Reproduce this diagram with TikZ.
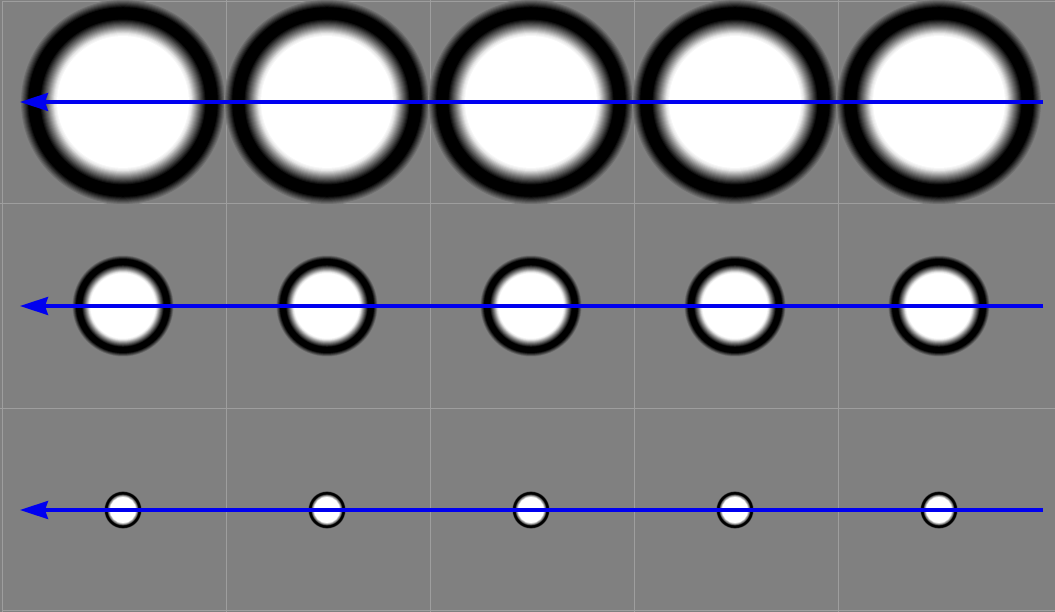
\documentclass[tikz,border=0pt]{standalone}
\usetikzlibrary{arrows.meta}
\definecolor{bggray}{RGB}{128,128,128}
\definecolor{gridgray}{RGB}{158,158,158}
\definecolor{arrowblue}{RGB}{0,0,240}
% concentric disks approximating a soft black ring
\newcommand{\softring}[3]{% center x, center y, outer radius
  \foreach \f in {1.00,0.99,...,0.61}{%
    \pgfmathsetmacro{\g}{(\f>0.96) ? (0.25+(\f-0.96)/0.04*0.25) : ((\f>0.92) ? ((\f-0.92)/0.04*0.25) : ((\f>0.81) ? 0 : ((\f>0.73) ? ((0.81-\f)/0.08*0.5) : ((\f>0.67) ? (0.5+(0.73-\f)/0.06*0.4) : min(1,0.9+(0.67-\f)/0.03*0.1)))))}%
    \pgfmathsetmacro{\p}{100*\g}%
    \fill[white!\p!black] (#1,#2) circle[radius=\f*#3];
  }%
  \fill[white] (#1,#2) circle[radius=0.61*#3];
}
\newcommand{\thinring}[3]{%
  \foreach \f in {1.00,0.98,...,0.66}{%
    \pgfmathsetmacro{\g}{(\f>0.94) ? ((\f-0.94)/0.06*0.5) : ((\f>0.84) ? 0 : ((\f>0.78) ? ((0.84-\f)/0.06*0.45) : min(1,0.45+(0.78-\f)/0.10*0.55)))}%
    \pgfmathsetmacro{\p}{100*\g}%
    \fill[white!\p!black] (#1,#2) circle[radius=\f*#3];
  }%
  \fill[white] (#1,#2) circle[radius=0.66*#3];
}
\begin{document}
\begin{tikzpicture}[x=1pt,y=-1pt,
  gridline/.style={draw=gridgray,line width=1pt},
  ringnode/.style={circle,inner sep=0pt,outer sep=0pt},
  bluearrow/.style={draw=arrowblue,line width=3.5pt,-{Stealth[length=28pt,width=18pt,inset=3pt]}}]
\useasboundingbox (0,0) rectangle (1055,612);
\fill[bggray] (0,0) rectangle (1055,612);
% frame and grid
\draw[gridline] (2.5,612) -- (2.5,1.5) -- (1055,1.5);
\draw[gridline] (2.5,610.5) -- (1055,610.5);
\foreach \gx in {226,430,634,838} \draw[gridline] (\gx,0) -- (\gx,612);
\foreach \gy in {204,408} \draw[gridline] (0,\gy) -- (1055,\gy);
% circles
\foreach \i/\cx in {1/123,2/327,3/531,4/735,5/939}{
  \softring{\cx}{102}{103}
  \node[ringnode,minimum size=206pt] (t\i) at (\cx,102) {};
  \softring{\cx}{306}{51}
  \node[ringnode,minimum size=102pt] (m\i) at (\cx,306) {};
  \thinring{\cx}{510}{19}
  \node[ringnode,minimum size=38pt] (b\i) at (\cx,510) {};
}
% arrows
\coordinate (r1) at (1043,102); \coordinate (l1) at (20,102);
\coordinate (r2) at (1043,306); \coordinate (l2) at (20,306);
\coordinate (r3) at (1043,510); \coordinate (l3) at (20,510);
\draw[bluearrow] (r1) -- (l1);
\draw[bluearrow] (r2) -- (l2);
\draw[bluearrow] (r3) -- (l3);
\end{tikzpicture}
\end{document}
